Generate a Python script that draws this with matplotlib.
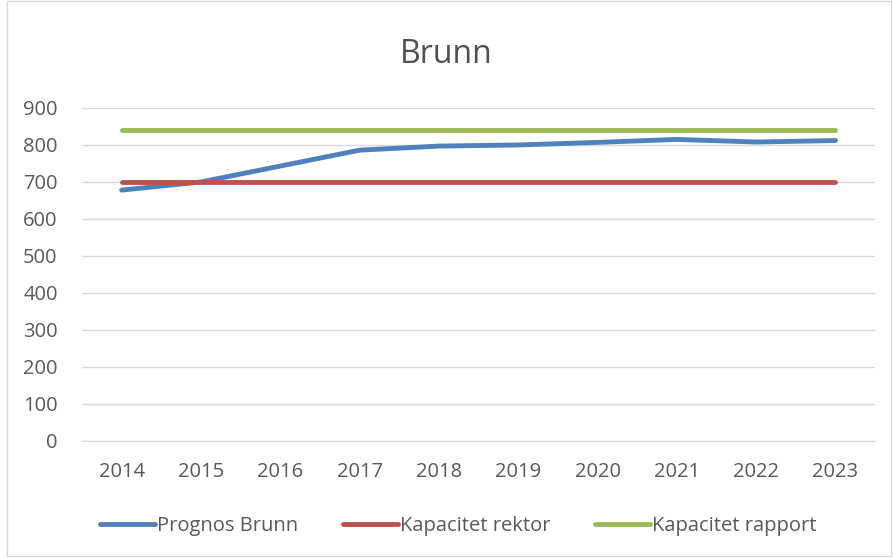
import matplotlib.pyplot as plt
from matplotlib.patches import Rectangle

years = ["2014", "2015", "2016", "2017", "2018", "2019", "2020", "2021", "2022", "2023"]
prognos = [678, 700, 743, 786, 797, 800, 807, 815, 808, 812]
kap_rektor = [700] * 10
kap_rapport = [840] * 10

plt.rcParams['font.family'] = ['Open Sans', 'DejaVu Sans']

fig = plt.figure(figsize=(8.93, 5.58), dpi=100)
ax = fig.add_axes([0.0918, 0.2097, 0.8882, 0.5968])

x = range(len(years))
lw = 3.5
ax.plot(x, prognos, color="#4F81BD", lw=lw, solid_capstyle="round", label="Prognos Brunn", zorder=3)
ax.plot(x, kap_rektor, color="#C0504D", lw=lw, solid_capstyle="round", label="Kapacitet rektor", zorder=3)
ax.plot(x, kap_rapport, color="#9BBB59", lw=lw, solid_capstyle="round", label="Kapacitet rapport", zorder=3)

ax.set_xlim(-0.5, len(years) - 0.5)
ax.set_ylim(0, 900)
ax.set_yticks(range(0, 901, 100))
ax.set_xticks(list(x))
ax.set_xticklabels(years)
ax.grid(axis="y", color="#D9D9D9", lw=1)
ax.set_axisbelow(True)
for s in ["top", "right", "left"]:
    ax.spines[s].set_visible(False)
ax.spines["bottom"].set_color("#D9D9D9")
ax.tick_params(length=0, labelsize=14.5, labelcolor="#595959")
ax.tick_params(axis="x", pad=15)
ax.tick_params(axis="y", pad=17.5)

fig.text(0.5, 0.903, "Brunn", ha="center", va="center", fontsize=23, color="#505050")

leg = fig.legend(loc="center", bbox_to_anchor=(0.513, 0.057), ncol=3, frameon=False,
                 fontsize=14.5, handlelength=2.74, handletextpad=0.1, columnspacing=2.2)
for t in leg.get_texts():
    t.set_color("#595959")

fig.patches.append(Rectangle((0.008, 0.004), 0.99, 0.994, transform=fig.transFigure,
                             fill=False, edgecolor="#D9D9D9", lw=1))

fig.savefig("out.png", dpi=100)
